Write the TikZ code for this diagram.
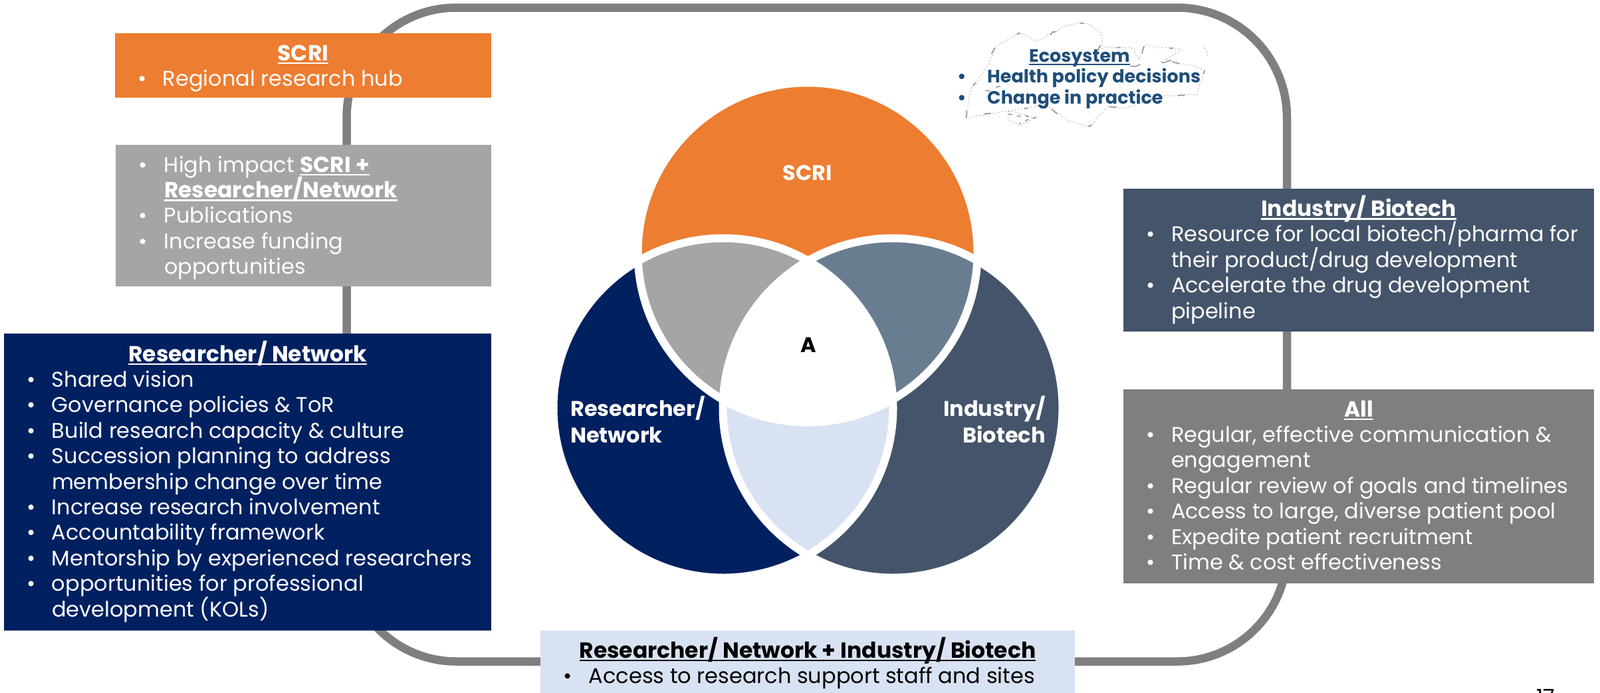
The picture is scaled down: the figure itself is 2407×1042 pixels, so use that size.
\documentclass[tikz,border=0pt]{standalone}
\usepackage{fontspec}
\setmainfont{Poppins}
\usetikzlibrary{decorations.pathmorphing}
\definecolor{cOrange}{HTML}{ED7D31}
\definecolor{cNavy}{HTML}{002060}
\definecolor{cSlate}{HTML}{44546A}
\definecolor{cSteel}{HTML}{697D91}
\definecolor{cGrayL}{HTML}{A5A5A5}
\definecolor{cGrayD}{HTML}{7F7F7F}
\definecolor{cPale}{HTML}{D9E2F3}
\definecolor{cEco}{HTML}{1F4E79}
\definecolor{cDood}{HTML}{7A6A52}
\newdimen\pW \newdimen\pA \newdimen\pB
\newcommand\ul[1]{\setbox0=\hbox{#1}\rlap{\vrule width\wd0 height -2.5pt depth 5.2pt}\box0 }
\newcommand\bd[1]{\ul{\fontsize{33}{38}\selectfont\bfseries #1}}
\newcommand\hd[1]{\hbox to \pW{\hss\bd{#1}\hss}}
\newcommand\bl[1]{\hbox{\kern\pA\rlap{•}\kern-\pA\kern\pB #1}}
\newcommand\cn[1]{\hbox{\kern\pB #1}}
% width, height, bullet x, text x, size, first baseline, content
\newcommand\body[7]{\pW=#1pt\pA=#3pt\pB=#4pt\vbox to #2pt{\hsize=#1pt\fontsize{#5}{38}\selectfont\baselineskip=38.4pt\lineskiplimit=-100pt\relax\vskip\dimexpr#6pt-38.4pt\relax\hbox to \hsize{}#7\vss}}
\tikzset{
 panel/.style={anchor=north west,inner sep=0pt,outer sep=0pt,text=white},
 venn/.style={text=white,font=\fontsize{32}{40}\selectfont\bfseries,inner sep=0pt,align=left},
 ring/.style={draw=white,line width=12pt},
 doodbase/.style={draw=cDood,line width=1.2pt,line join=round,dash pattern=on 2.5pt off 2.5pt,opacity=.35,decorate,decoration={random steps,segment length=5pt,amplitude=1.5pt}},
 doodink/.style={draw=black!55!cDood,line width=1.5pt,dash pattern=on 11pt off 40pt on 6pt off 52pt,opacity=.5,decorate,decoration={random steps,segment length=4pt,amplitude=1.2pt}},
}
\begin{document}
\begin{tikzpicture}[x=1pt,y=-1pt]
\useasboundingbox (0,0) rectangle (2407,1042);
% loop
\coordinate (loopA) at (521.5,11.5);
\coordinate (loopB) at (1936,995.5);
\draw[cGrayD,line width=12.5pt,rounded corners=165pt] (loopA) rectangle (loopB);
% doodle
\def\doodmain{(1453,177) -- (1460,137) -- (1487,97) -- (1497,70) -- (1533,50) -- (1547,55) -- (1560,62) -- (1607,37) -- (1633,35) -- (1657,50) -- (1658,67) -- (1647,80) -- (1667,70) -- (1707,73) -- (1713,90) -- (1723,68) -- (1777,75) -- (1753,90) -- (1797,100) -- (1812,107) -- (1800,143) -- (1753,143) -- (1693,163) -- (1667,160) -- (1640,190) -- (1607,183) -- (1573,157) -- (1517,167) -- (1453,177)}
\draw[doodbase] \doodmain;
\draw[doodink] \doodmain;
\draw[doodbase] (1517,167) -- (1543,173) -- (1557,177) -- (1533,190) -- (1517,180) -- cycle;
\draw[doodink,dash pattern=on 6pt off 7pt] (1517,172) -- (1557,177) -- (1533,186);
\draw[doodbase] (1810,68) -- (1817,85);
\draw[doodink,dash pattern=on 16pt off 32pt] (1700,100) -- (1790,88);
\draw[doodink,dash pattern=on 7pt off 10pt] (1505,130) -- (1480,138);
% venn
\coordinate (cT) at (1215,380);
\coordinate (cL) at (1088,614);
\coordinate (cR) at (1343,614);
\def\rr{255.5pt}
\fill[cOrange] (cT) circle (\rr);
\fill[cNavy] (cL) circle (\rr);
\fill[cSlate] (cR) circle (\rr);
\begin{scope}\clip (cT) circle (\rr); \fill[cGrayL] (cL) circle (\rr); \fill[cSteel] (cR) circle (\rr); \end{scope}
\begin{scope}\clip (cL) circle (\rr); \fill[cPale] (cR) circle (\rr); \end{scope}
\begin{scope}\clip (cT) circle (\rr); \clip (cL) circle (\rr); \fill[white] (cR) circle (\rr); \end{scope}
\draw[ring] (cT) circle (\rr);
\draw[ring] (cL) circle (\rr);
\draw[ring] (cR) circle (\rr);
\node[venn,anchor=base] (lblS) at (1215,271) {SCRI};
\node[venn,anchor=base,text=black] (lblA) at (1216,530) {A};
\node[venn,anchor=base west] (lblR) at (858,666) {Researcher/\\Network};
\node[venn,anchor=base east,align=right] (lblI) at (1573,666) {Industry/\\Biotech};
% ecosystem
\node[anchor=north west,inner sep=0pt,text=cEco] (eco) at (1440,60) {\pW=380pt\pA=0pt\pB=45pt\vbox to 110pt{\hsize=380pt\fontsize{27}{32}\selectfont\bfseries\baselineskip=31.7pt\lineskiplimit=-100pt\relax\vskip 1.3pt\hbox{}\hbox{\kern108pt\ul{Ecosystem}}\bl{Health policy decisions}\bl{Change in practice}\vss}};
% panels
\node[panel,fill=cOrange] (pSCRI) at (173,49.5) {\body{566}{97.5}{34}{72}{32}{41.5}{\hd{SCRI}\bl{Regional research hub}}};
\node[panel,fill=cGrayL] (pMix) at (174,218) {\body{565}{213}{34}{73}{32}{41}{\bl{High impact \bd{SCRI +}}\cn{\bd{Researcher/Network}}\bl{Publications}\bl{Increase funding}\cn{opportunities}}};
\node[panel,fill=cNavy] (pRes) at (6,502) {\body{733}{447}{34}{72}{32}{42}{\hd{Researcher/ Network}\bl{Shared vision}\bl{Governance policies \& ToR}\bl{Build research capacity \& culture}\bl{Succession planning to address}\cn{membership change over time}\bl{Increase research involvement}\bl{Accountability framework}\bl{Mentorship by experienced researchers}\bl{opportunities for professional}\cn{development (KOLs)}}};
\node[panel,fill=cSlate] (pInd) at (1690,284) {\body{708}{215}{34}{72}{32}{41.5}{\hd{Industry/ Biotech}\bl{Resource for local biotech/pharma for}\cn{their product/drug development}\bl{Accelerate the drug development}\cn{pipeline}}};
\node[panel,fill=cGrayD] (pAll) at (1690,586) {\body{708}{291.5}{34}{72}{32}{41}{\hd{All}\bl{Regular, effective communication \&}\cn{engagement}\bl{Regular review of goals and timelines}\bl{Access to large, diverse patient pool}\bl{Expedite patient recruitment}\bl{Time \& cost effectiveness}}};
\node[panel,fill=cPale,text=black] (pBot) at (813,948.5) {\body{804}{94}{34}{73}{32}{41.5}{\hd{Researcher/ Network + Industry/ Biotech}\bl{Access to research support staff and sites}}};
\node[anchor=base,inner sep=0pt,font=\fontsize{32}{38}\selectfont] (pg) at (2325,1060) {17};
\end{tikzpicture}
\end{document}
